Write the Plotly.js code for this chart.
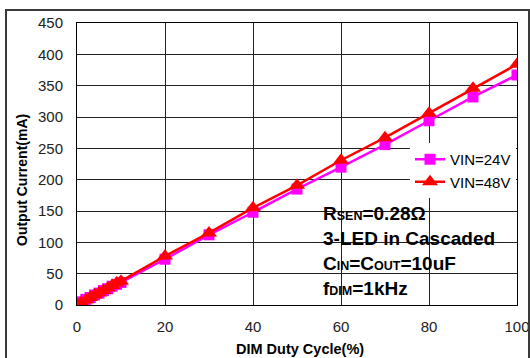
<!DOCTYPE html>
<html>
<head>
<meta charset="utf-8">
<script src="https://cdn.plot.ly/plotly-3.0.1.min.js"></script>
<style>
html,body{margin:0;padding:0;background:#fff;}
#wrap{position:relative;width:530px;height:358px;overflow:hidden;}
#chart{position:absolute;left:0;top:0;width:530px;height:358px;}
#frame{position:absolute;left:5px;top:9px;width:521px;height:360px;border:2px solid #3a3a3a;pointer-events:none;}
</style>
</head>
<body>
<div id="wrap"><div id="chart"></div><div id="frame"></div></div>
<script>
const duty = [0,1,2,3,4,5,6,7,8,9,10,20,30,40,50,60,70,80,90,100];
const vin24 = [2,5,9,12,16,19,23,26,30,33,36,73,112,148,185,220,256,294,332,367];
const vin48 = [1,4,8,12,16,19,23,27,31,35,38,78,115,155,191,231,267,306,346,384];
const seriesNames = ['VIN=24V','VIN=48V'];
const xTicks = [0,20,40,60,80,100];
const yTicks = [0,50,100,150,200,250,300,350,400,450];
const noteLines = [
  'R<span style="font-size:12.5px">SEN</span>=0.28Ω',
  '3-LED in Cascaded',
  'C<span style="font-size:12.5px">IN</span>=C<span style="font-size:12.5px">OUT</span>=10uF',
  'f<span style="font-size:12.5px">DIM</span>=1kHz'
];

const L=77, R=517, T=23, B=305;
const pw=R-L, ph=B-T;
const px = v => (v-L)/pw;
const py = v => (B-v)/ph;

const traces = [
  {x:duty, y:vin24, name:seriesNames[0], type:'scatter', mode:'lines+markers',
   line:{color:'#FF00FF', width:2.5}, marker:{symbol:'square', size:11, color:'#FF00FF'}},
  {x:duty, y:vin48, name:seriesNames[1], type:'scatter', mode:'lines+markers',
   line:{color:'#FF0000', width:2.5}, marker:{symbol:'triangle-up', size:14, color:'#FF0000'}}
];

const font = {family:'Arial, "Liberation Sans", sans-serif', color:'#000'};
const annotations = noteLines.map((t,i)=>({
  xref:'paper', yref:'paper', x:px(321), y:py(213+25*i), xanchor:'left', yanchor:'middle',
  text:'<b>'+t+'</b>', showarrow:false, font:Object.assign({}, font, {size:19})
}));
annotations.push({xref:'paper', yref:'paper', x:px(22), y:py(180), xanchor:'center', yanchor:'middle',
  text:'<b>Output Current(mA)</b>', textangle:-90, showarrow:false, font:Object.assign({}, font, {size:14})});
annotations.push({xref:'paper', yref:'paper', x:px(300), y:py(349), xanchor:'center', yanchor:'middle',
  text:'<b>DIM Duty Cycle(%)</b>', showarrow:false, font:Object.assign({}, font, {size:14.5})});

const layout = {
  width:530, height:358,
  margin:{l:L, r:530-R, t:T, b:358-B, pad:0},
  paper_bgcolor:'#fff', plot_bgcolor:'#fff',
  font:Object.assign({}, font, {size:15}),
  showlegend:true,
  legend:{x:px(410), y:py(143), xanchor:'left', yanchor:'top', bgcolor:'#fff', borderwidth:0,
    font:Object.assign({}, font, {size:15}), tracegroupgap:0},
  xaxis:{range:[0,100], tickvals:xTicks, ticks:'', showgrid:true, gridcolor:'#222', gridwidth:1,
    showline:true, linecolor:'#000', linewidth:1, mirror:true, zeroline:false,
    tickfont:{size:15, family:font.family, color:'#222'}, ticklabelstandoff:8},
  yaxis:{range:[0,450], tickvals:yTicks, ticks:'', showgrid:true, gridcolor:'#222', gridwidth:1,
    showline:true, linecolor:'#000', linewidth:1, mirror:true, zeroline:false,
    tickfont:{size:15, family:font.family, color:'#222'}, ticklabelstandoff:10},
  shapes:[
    {type:'rect', xref:'paper', yref:'paper', x0:px(317), x1:px(513), y0:py(298), y1:py(197),
     fillcolor:'#fff', line:{width:0}, layer:'between'},
    {type:'rect', xref:'paper', yref:'paper', x0:px(403), x1:px(517), y0:py(197), y1:py(143),
     fillcolor:'#fff', line:{width:0}, layer:'between'}
  ],
  annotations:annotations
};
Plotly.newPlot('chart', traces, layout, {displayModeBar:false, staticPlot:true});
</script>
</body>
</html>
